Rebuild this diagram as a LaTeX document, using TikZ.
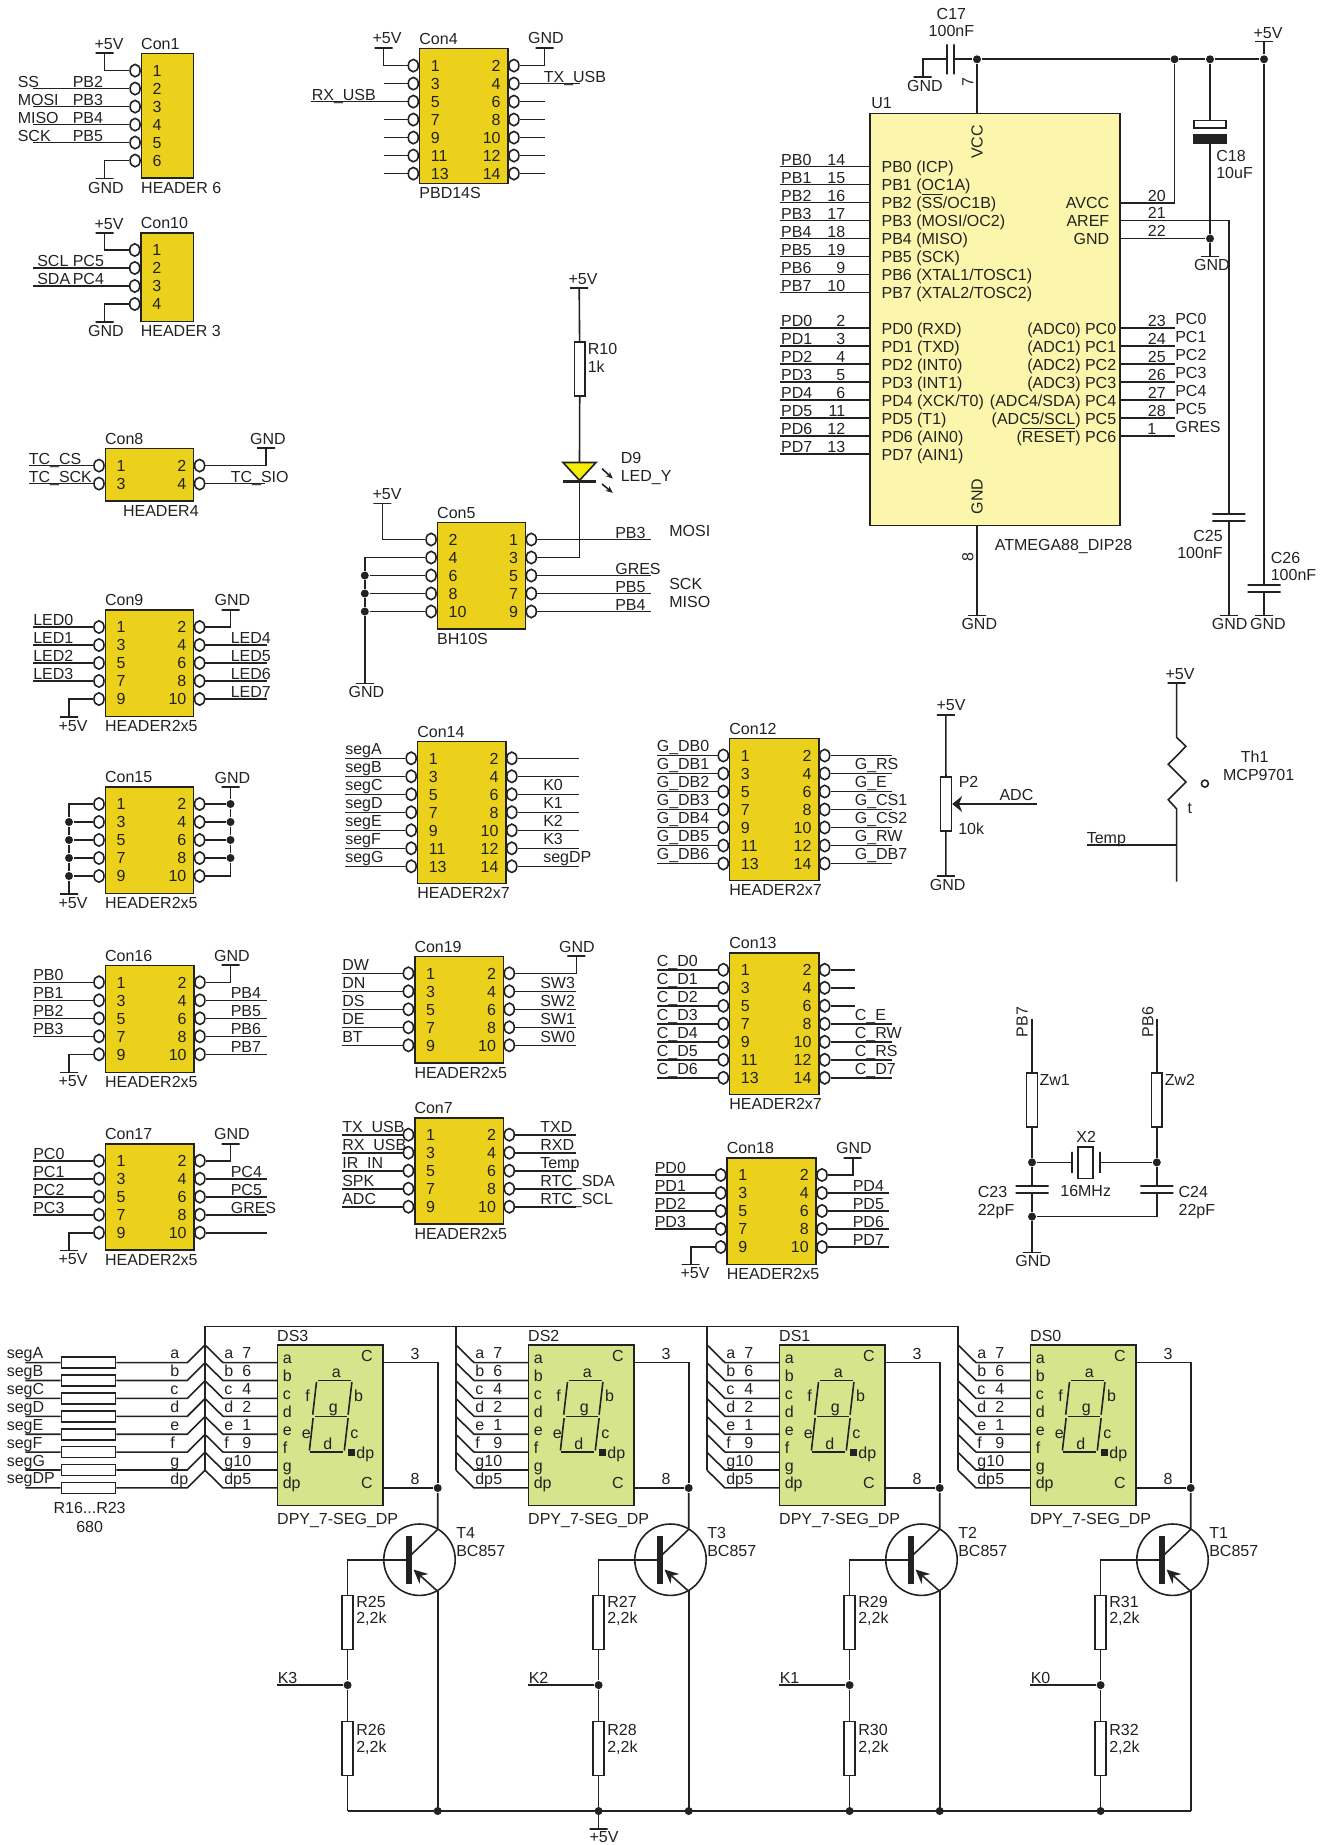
\documentclass[tikz,border=0pt]{standalone}
\usepackage{fontspec}
\setmainfont{Liberation Sans}
\usetikzlibrary{arrows.meta,shapes.geometric}
\definecolor{conyellow}{HTML}{ECD11C}
\definecolor{mcuyellow}{HTML}{FBF6AB}
\definecolor{dispgreen}{HTML}{D6E48C}
\definecolor{ledyellow}{HTML}{F6EE00}
\definecolor{wirecol}{HTML}{222222}
\def\sigraise{.7pt}
\tikzset{
  txt/.style={font=\fontsize{8}{10}\selectfont,inner sep=0pt,text height=5.8pt,text depth=0pt,anchor=west},
  txtc/.style={txt,anchor=center},
  sig/.style={txt,anchor=base west,yshift=\sigraise},
  conbody/.style={draw,fill=conyellow,inner sep=0pt},
  mcubody/.style={draw,fill=mcuyellow,inner sep=0pt},
  dispbody/.style={draw,fill=dispgreen,inner sep=0pt},
  pinhole/.style={ellipse,draw,fill=white,inner sep=0pt,minimum width=5pt,minimum height=6.2pt},
  railbar/.style={draw,inner sep=0pt,minimum width=9pt,minimum height=0pt},
  plateh/.style={draw,inner sep=0pt,minimum width=16.5pt,minimum height=0pt,line width=1pt},
  platev/.style={draw,inner sep=0pt,minimum height=15pt,minimum width=0pt,line width=1pt},
  resv/.style={draw,fill=white,inner sep=0pt,minimum width=5.4pt,minimum height=27pt},
  resh/.style={draw,fill=white,inner sep=0pt,minimum width=27pt,minimum height=5.5pt},
  junction/.style={circle,fill,inner sep=0pt,minimum size=4pt}
}
\newcommand{\ovl}[1]{$\overline{\mbox{#1}}$}
\newcommand{\conbox}[7]{%
  \def\conname{#1}\def\conxl{#2}\def\conxr{#3}\def\cony{#4}%
  \node[conbody,minimum width=(#3-#2)*.5pt,minimum height=(#5-#4)*.5pt] (#1) at ({(#2+#3)/2},{(#4+#5)/2}) {};
  \node[txt] (#1title) at (#2-1,#4-10) {#6};
  \node[txt] (#1type) at (#2-1,#5+9.5) {#7};}
\newcommand{\pinsL}[1]{%
  \foreach \n [count=\i from 0] in {#1} {
    \node[pinhole] (\conname p\n) at (\conxl-6.3,\cony+17+18*\i) {};
    \node[txt] (\conname n\n) at (\conxl+10.5,\cony+17+18*\i) {\n};
  }}
\newcommand{\pinsR}[1]{%
  \foreach \n [count=\i from 0] in {#1} {
    \node[pinhole] (\conname p\n) at (\conxr+6,\cony+17+18*\i) {};
    \node[txt,anchor=east] (\conname n\n) at (\conxr-6.5,\cony+17+18*\i) {\n};
  }}
\newcommand{\stub}[2]{%
  \coordinate (#1e) at (#2,0 |- #1);
  \draw (#1) -- (#1e);}
\newcommand{\wire}[4]{%
  \stub{#1}{#2}
  \node[sig] (#1t) at (#3,0 |- #1) {#4};}
\newcommand{\supply}[6]{%
  \node[railbar] (#1) at (#2,#3) {};
  \node[txtc] (#1t) at (#5,#6) {#4};}
\newcommand{\uleft}[4]{%
  \coordinate (u1#1) at (870.2,#2);
  \coordinate (u1#1e) at (780.4,#2);
  \draw (u1#1) -- (u1#1e);
  \node[sig] (u1#1t) at (u1#1e) {#1};
  \node[sig,anchor=base east] (u1#1n) at (846,#2) {#3};
  \node[txt] (u1#1f) at (880.8,#2) {#4};}
\newcommand{\dispunit}[6]{%
  \begin{scope}[xshift=#1*.5pt,name prefix=#2-]
    \node[dispbody,minimum width=52.8pt,minimum height=80.1pt] (box) at (330.2,1425.3) {};
    \node[txt] (name) at (276.4,1335.5) {#2};
    \node[txt] (type) at (276.4,1518.3) {DPY\_7-SEG\_DP};
    \coordinate (busT) at (205,1326.4);
    \foreach \s/\n [count=\i from 0] in {a/7,b/6,c/4,d/2,e/1,f/9,g/10,dp/5} {
      \coordinate (pin\s) at (277.4,1362.6+17.9*\i);
      \coordinate (in\s) at (223,1362.6+17.9*\i);
      \coordinate (tap\s) at (205,1344.9+17.9*\i);
      \draw (tap\s) -- (in\s) -- (pin\s);
      \node[txt,anchor=base west] (lt\s) at (223.5,1358.8+17.9*\i) {\s};
      \node[txt,anchor=base east] (no\s) at (252,1358.8+17.9*\i) {\n};
      \node[txt,anchor=base west] (li\s) at (282,1363.6+17.9*\i) {\s};
    }
    \draw (busT) -- (tapdp);
    \foreach \ax/\ay/\bx/\by in {40.4/35.1/73.2/35.1,39.1/36.8/35.3/69.5,74.5/36.8/70.7/69.5,37.4/71.2/69.8/71.2,35.7/72.9/32/105.3,70.7/72.9/66.9/105.3,32.4/107/65.6/107}
      \draw (277.4+\ax,1345.2+\ay) -- (277.4+\bx,1345.2+\by);
    \foreach \s/\ax/\ay in {a/58.9/26.4,f/30.3/50.4,b/81.2/50.4,g/55.9/61.2,e/29/87.6,c/77/87.6,d/50.5/98,dp/87.9/107}
      \node[txtc] (seg\s) at (277.4+\ax,1345.2+\ay) {\s};
    \node[fill,inner sep=0pt,minimum size=3.5pt] (dpdot) at (351.4,1452.2) {};
    \node[txtc] (ctop) at (367,1355.3) {C};
    \node[txtc] (cbot) at (367,1482.5) {C};
    \node[txtc] (pin3) at (415,1353.5) {3};
    \node[txtc] (pin8) at (415,1478.7) {8};
    \coordinate (cout) at (383,1362.6);
    \coordinate (cout2) at (383,1488);
    \node[junction] (cj) at (437.7,1488) {};
    \draw (cout) -| (cj);
    \draw (cout2) -- (cj);
    % transistor
    \node[circle,draw,inner sep=0pt,minimum size=35.7pt] (tr) at (419.5,1559.7) {};
    \node[fill,inner sep=0pt,minimum width=2.6pt,minimum height=23.8pt] (bb) at (409,1560.2) {};
    \node[txt] (tname) at (455.5,1532.2) {#3};
    \node[txt] (ttype) at (455.5,1551) {BC857};
    \coordinate (ct) at (437.7,1529.4);
    \coordinate (cb) at (410.4,1555.5);
    \coordinate (ee) at (437.7,1591.3);
    \coordinate (eb) at (413.5,1569.5);
    \coordinate (ebot) at (437.7,1811);
    \coordinate (rb) at (347.6,1811);
    \draw (cj) -- (ct) -- (cb);
    \draw[-{Stealth[length=7pt,width=6.5pt]}] (ee) -- (eb);
    \draw (ee) -- (ebot);
    % base divider
    \node[resv] (ru) at (347.6,1622.5) {};
    \node[resv] (rl) at (347.6,1748.5) {};
    \node[junction] (kj) at (347.6,1685.1) {};
    \coordinate (kin) at (277,1685.1);
    \draw (ru) |- (bb);
    \draw (ru) -- (kj) -- (rl) -- (rb);
    \draw (kin) -- (kj);
    \node[sig] (kt) at (kin) {#6};
    \node[txt] (run) at (355.5,1601.4) {#4};
    \node[txt] (ruv) at (355.5,1617.3) {2,2k};
    \node[txt] (rln) at (355.5,1729.6) {#5};
    \node[txt] (rlv) at (355.5,1747) {2,2k};
  \end{scope}}

\begin{document}
\begin{tikzpicture}[x=.5pt,y=-.5pt,line width=.8pt,color=wirecol,>=stealth]
  \useasboundingbox (0,0) rectangle (1332,1845);

  % Con1
  \conbox{con1}{141.4}{193.6}{53.6}{178}{Con1}{HEADER 6}
  \pinsL{1,...,6}
  \supply{v1}{104.5}{53.2}{+5V}{109}{43.6}
  \supply{g1}{104.5}{178.6}{GND}{106}{187.5}
  \draw (con1p1) -| (v1);
  \draw (con1p6) -| (g1);
  \foreach \p/\a/\b in {2/SS/PB2,3/MOSI/PB3,4/MISO/PB4,5/SCK/PB5} {
    \wire{con1p\p}{33}{17}{\a}
    \node[sig] (con1p\p b) at (72,0 |- con1p\p) {\b};
  }
  % Con10
  \conbox{con10}{141}{193.6}{233}{321.4}{Con10}{HEADER 3}
  \pinsL{1,...,4}
  \supply{v10}{104.5}{233}{+5V}{109}{224}
  \supply{g10}{104.5}{322}{GND}{106}{330.7}
  \draw (con10p1) -| (v10);
  \draw (con10p4) -| (g10);
  \foreach \p/\a/\b in {2/SCL/PC5,3/SDA/PC4} {
    \wire{con10p\p}{33}{36.5}{\a}
    \node[sig] (con10p\p b) at (72,0 |- con10p\p) {\b};
  }
  % Con4
  \conbox{con4}{419.6}{507.9}{48.6}{183.6}{Con4}{PBD14S}
  \pinsL{1,3,...,13}
  \pinsR{2,4,...,14}
  \supply{v4}{383.5}{47.9}{+5V}{387}{38.2}
  \supply{g4}{544.6}{47.9}{GND}{546}{38.2}
  \draw (con4p1) -| (v4);
  \draw (con4p2) -| (g4);
  \wire{con4p5}{311.3}{311}{RX\_USB}
  \wire{con4p4}{580}{543}{TX\_USB}
  \foreach \p in {3,7,9,11,13} \stub{con4p\p}{383.5};
  \foreach \p in {6,8,...,14} \stub{con4p\p}{544.6};
  % Con8
  \conbox{con8}{105.3}{193.6}{448.6}{501.2}{Con8}{\hspace*{9pt}HEADER4}
  \pinsL{1,3}
  \pinsR{2,4}
  \supply{g8}{266}{448.2}{GND}{268}{438.6}
  \draw (con8p2) -| (g8);
  \wire{con8p1}{28.5}{28}{TC\_CS}
  \wire{con8p3}{28.5}{28}{TC\_SCK}
  \wire{con8p4}{265}{230}{TC\_SIO}
  % Con5 and the LED
  \conbox{con5}{437.4}{525.3}{522.5}{628.7}{Con5}{BH10S}
  \pinsL{2,4,...,10}
  \pinsR{1,3,...,9}
  \supply{v5}{382.3}{503.6}{+5V}{387}{494}
  \supply{g5}{364.8}{683.3}{GND}{366.5}{691.7}
  \draw (con5p2) -| (v5);
  \node[junction] (j56) at (364.8,0 |- con5p6) {};
  \node[junction] (j58) at (364.8,0 |- con5p8) {};
  \node[junction] (j510) at (364.8,0 |- con5p10) {};
  \draw (con5p4) -| (j56);
  \draw (con5p6) -- (j56) -- (j58) -- (j510) -- (g5);
  \draw (con5p8) -- (j58);
  \draw (con5p10) -- (j510);
  \wire{con5p1}{651}{614.5}{PB3}
  \wire{con5p5}{651}{614.5}{GRES}
  \wire{con5p7}{651}{614.5}{PB5}
  \wire{con5p9}{651}{614.5}{PB4}
  \node[txt] (mositxt) at (668.5,530.7) {MOSI};
  \node[txt] (scktxt) at (668.5,583.6) {SCK};
  \node[txt] (misotxt) at (668.5,601.3) {MISO};
  \supply{v10r}{579.2}{287.9}{+5V}{583}{279}
  \node[resv] (r10) at (579.8,369.2) {};
  \node[txt] (r10n) at (587,348.6) {R10};
  \node[txt] (r10v) at (587,366.8) {1k};
  \coordinate (d9a) at (579.5,462.5);
  \coordinate (d9k) at (579.5,481.4);
  \coordinate (ledk) at (579.5,0 |- con5p3);
  \draw (v10r) -- (r10) -- (d9a);
  \draw[fill=ledyellow] (563,462.5) -- (596,462.5) -- (579.5,480.4) -- cycle;
  \draw[line width=1.6pt] (563,481.4) -- (596,481.4);
  \draw (d9k) -- (ledk) -- (con5p3);
  \draw[-{Stealth[length=3.5pt,width=3pt]}] (602,468.6) -- (612.8,478.6);
  \draw[-{Stealth[length=3.5pt,width=3pt]}] (602,484) -- (612.8,492.9);
  \node[txt] (d9n) at (620,458) {D9};
  \node[txt] (d9v) at (620,476) {LED\_Y};
  % Con9
  \conbox{con9}{105.3}{193.6}{610}{716.3}{Con9}{HEADER2x5}
  \pinsL{1,3,...,9}
  \pinsR{2,4,...,10}
  \supply{g9}{230.5}{610}{GND}{232.5}{600}
  \supply{v9}{69}{717}{+5V}{73}{725.7}
  \draw (con9p2) -| (g9);
  \draw (con9p9) -| (v9);
  \foreach \p/\lab in {1/LED0,3/LED1,5/LED2,7/LED3} \wire{con9p\p}{33}{32.5}{\lab};
  \foreach \p/\lab in {4/LED4,6/LED5,8/LED6,10/LED7} \wire{con9p\p}{267}{230}{\lab};
  % Con15
  \conbox{con15}{105.3}{193.6}{787}{893.3}{Con15}{HEADER2x5}
  \pinsL{1,3,...,9}
  \pinsR{2,4,...,10}
  \supply{g15}{230.5}{787}{GND}{232.5}{777.3}
  \supply{v15}{69}{894}{+5V}{73}{902.7}
  \foreach \p in {3,5,...,9} {
    \node[junction] (j15p\p) at (69,0 |- con15p\p) {};
    \draw (con15p\p) -- (j15p\p);
  }
  \foreach \p in {2,4,...,8} {
    \node[junction] (j15p\p) at (230.5,0 |- con15p\p) {};
    \draw (con15p\p) -- (j15p\p);
  }
  \draw (con15p1) -| (j15p3);
  \draw (j15p3) -- (j15p5) -- (j15p7) -- (j15p9) -- (v15);
  \draw (g15) -- (j15p2) -- (j15p4) -- (j15p6) -- (j15p8);
  \draw (con15p10) -| (j15p8);
  % Con16
  \conbox{con16}{105.3}{193.9}{965.3}{1072.3}{Con16}{HEADER2x5}
  \pinsL{1,3,...,9}
  \pinsR{2,4,...,10}
  \supply{g16}{230.6}{965}{GND}{232}{955.3}
  \supply{v16}{69}{1072.5}{+5V}{73}{1081}
  \draw (con16p2) -| (g16);
  \draw (con16p9) -| (v16);
  \foreach \p/\lab in {1/PB0,3/PB1,5/PB2,7/PB3} \wire{con16p\p}{33}{32.5}{\lab};
  \foreach \p/\lab in {4/PB4,6/PB5,8/PB6,10/PB7} \wire{con16p\p}{266.5}{230}{\lab};
  % Con17
  \conbox{con17}{105.3}{193.9}{1143.7}{1250}{Con17}{HEADER2x5}
  \pinsL{1,3,...,9}
  \pinsR{2,4,...,10}
  \supply{g17}{230.6}{1143.7}{GND}{232}{1133.7}
  \supply{v17}{69}{1250.5}{+5V}{73}{1259}
  \draw (con17p2) -| (g17);
  \draw (con17p9) -| (v17);
  \foreach \p/\lab in {1/PC0,3/PC1,5/PC2,7/PC3} \wire{con17p\p}{33}{32.5}{\lab};
  \foreach \p/\lab in {4/PC4,6/PC5,8/GRES} \wire{con17p\p}{266.5}{230}{\lab};
  \stub{con17p10}{266.5}
  % Con19
  \def\sigraise{1.2pt}
  \conbox{con19}{414.7}{503.3}{956.3}{1062.7}{Con19}{HEADER2x5}
  \pinsL{1,3,...,9}
  \pinsR{2,4,...,10}
  \supply{g19}{576.3}{956}{GND}{577}{946.7}
  \draw (con19p2) -| (g19);
  \foreach \p/\lab in {1/DW,3/DN,5/DS,7/DE,9/BT} \wire{con19p\p}{342}{341.5}{\lab};
  \foreach \p/\lab in {4/SW3,6/SW2,8/SW1,10/SW0} \wire{con19p\p}{576.3}{539.5}{\lab};
  % Con7
  \conbox{con7}{414.7}{503.3}{1117.7}{1224}{Con7}{HEADER2x5}
  \pinsL{1,3,...,9}
  \pinsR{2,4,...,10}
  \foreach \p/\lab in {1/TX\_USB,3/RX\_USB,5/IR\_IN,7/SPK,9/ADC} \wire{con7p\p}{342}{341.5}{\lab};
  \foreach \p/\lab in {2/TXD,4/RXD,6/Temp,8/RTC\_SDA,10/RTC\_SCL} \wire{con7p\p}{576.3}{539.5}{\lab};
  % Con14
  \def\sigraise{1.9pt}
  \conbox{con14}{417.5}{505.8}{741.3}{883.3}{Con14}{HEADER2x7}
  \pinsL{1,3,...,13}
  \pinsR{2,4,...,14}
  \foreach \p/\lab in {1/segA,3/segB,5/segC,7/segD,9/segE,11/segF,13/segG} \wire{con14p\p}{345}{344.5}{\lab};
  \foreach \p/\lab in {6/K0,8/K1,10/K2,12/K3,14/segDP} \wire{con14p\p}{578.8}{542.5}{\lab};
  \stub{con14p2}{578.8}
  \stub{con14p4}{578.8}
  % Con12
  \conbox{con12}{729.6}{818.7}{738.5}{880.5}{Con12}{HEADER2x7}
  \pinsL{1,3,...,13}
  \pinsR{2,4,...,14}
  \foreach \p/\lab in {1/G\_DB0,3/G\_DB1,5/G\_DB2,7/G\_DB3,9/G\_DB4,11/G\_DB5,13/G\_DB6} \wire{con12p\p}{656.8}{656}{\lab};
  \foreach \p/\lab in {4/G\_RS,6/G\_E,8/G\_CS1,10/G\_CS2,12/G\_RW,14/G\_DB7} \wire{con12p\p}{891.5}{854}{\lab};
  \stub{con12p2}{891.5}
  % Con13
  \conbox{con13}{729.6}{818.7}{952.8}{1094.4}{Con13}{HEADER2x7}
  \pinsL{1,3,...,13}
  \pinsR{2,4,...,14}
  \foreach \p/\lab in {1/C\_D0,3/C\_D1,5/C\_D2,7/C\_D3,9/C\_D4,11/C\_D5,13/C\_D6} \wire{con13p\p}{656.8}{656}{\lab};
  \foreach \p/\lab in {8/C\_E,10/C\_RW,12/C\_RS,14/C\_D7} \wire{con13p\p}{891.5}{854}{\lab};
  \foreach \p in {2,4,6} \stub{con13p\p}{855};
  \def\sigraise{.7pt}
  % Con18
  \conbox{con18}{727}{816}{1158}{1264.4}{Con18}{HEADER2x5}
  \pinsL{1,3,...,9}
  \pinsR{2,4,...,10}
  \supply{g18}{852.7}{1158}{GND}{854}{1147.8}
  \supply{v18}{690.7}{1264.4}{+5V}{695}{1273}
  \draw (con18p2) -| (g18);
  \draw (con18p9) -| (v18);
  \foreach \p/\lab in {1/PD0,3/PD1,5/PD2,7/PD3} \wire{con18p\p}{654.6}{654}{\lab};
  \foreach \p/\lab in {4/PD4,6/PD5,8/PD6,10/PD7} \wire{con18p\p}{888.5}{852}{\lab};

  % U1
  \node[mcubody,minimum width=124.8pt,minimum height=205.85pt] (u1) at (995,319.45) {};
  \node[txt] (u1name) at (870.5,102.7) {U1};
  \node[txt] (u1type) at (994,544.6) {ATMEGA88\_DIP28};
  \node[txtc,rotate=90] (u1vcct) at (976.7,141.8) {VCC};
  \node[txtc,rotate=90] (u1gndt) at (976.7,496.6) {GND};
  \foreach \lab/\n/\fn [count=\i from 0] in {PB0/14/{PB0 (ICP)},PB1/15/{PB1 (OC1A)},PB2/16/{PB2 (\ovl{SS}/OC1B)},PB3/17/{PB3 (MOSI/OC2)},PB4/18/{PB4 (MISO)},PB5/19/{PB5 (SCK)},PB6/9/{PB6 (XTAL1/TOSC1)},PB7/10/{PB7 (XTAL2/TOSC2)}}
    \uleft{\lab}{166.7+18*\i}{\n}{\fn};
  \foreach \lab/\n/\fn [count=\i from 0] in {PD0/2/{PD0 (RXD)},PD1/3/{PD1 (TXD)},PD2/4/{PD2 (INT0)},PD3/5/{PD3 (INT1)},PD4/6/{PD4 (XCK/T0)},PD5/11/{PD5 (T1)},PD6/12/{PD6 (AIN0)},PD7/13/{PD7 (AIN1)}}
    \uleft{\lab}{328.3+18*\i}{\n}{\fn};
  \foreach \lab/\n/\fn/\nx [count=\i from 0] in {PC0/23/{(ADC0) PC0}/1156.8,PC1/24/{(ADC1) PC1}/1156.8,PC2/25/{(ADC2) PC2}/1156.8,PC3/26/{(ADC3) PC3}/1156.8,PC4/27/{(ADC4/SDA) PC4}/1156.8,PC5/28/{(ADC5/SCL) PC5}/1156.8,GRES/1/{(\ovl{RESET}) PC6}/1151.9} {
    \coordinate (u1\lab) at (1119.8,328.3+18*\i);
    \coordinate (u1\lab e) at (1175.3,328.3+18*\i);
    \draw (u1\lab) -- (u1\lab e);
    \node[txt] (u1\lab t) at (1174.5,319+18*\i) {\lab};
    \node[txtc] (u1\lab n) at (\nx,321+18*\i) {\n};
    \node[txt,anchor=east] (u1\lab f) at (1117,328.3+18*\i) {\fn};
  }
  \foreach \lab/\n/\yy in {AVCC/20/202.9,AREF/21/220.5,GND/22/238.6} {
    \coordinate (u1\lab) at (1119.8,\yy);
    \node[txt,anchor=east] (u1\lab f) at (1110,\yy) {\lab};
    \node[txtc] (u1\lab n) at (1156.8,\yy-7.4) {\n};
  }
  \coordinate (u1vcc) at (977,113.6);
  \coordinate (u1gnd) at (977,525.3);
  \node[txtc,rotate=90] (pin7t) at (967.6,81.6) {7};
  \node[txtc,rotate=90] (pin8t) at (967.6,557.2) {8};
  \supply{g8u}{977}{615.3}{GND}{979.3}{624}
  \draw (u1gnd) -- (g8u);
  % supply rail
  \node[platev] (c17a) at (947.2,59.3) {};
  \node[platev] (c17b) at (954,59.3) {};
  \node[txtc] (c17n) at (951.4,13.5) {C17};
  \node[txtc] (c17v) at (951.4,30.3) {100nF};
  \supply{g17c}{922.7}{77}{GND}{925}{85.4}
  \draw (c17a) -| (g17c);
  \node[junction] (j1) at (977,59.3) {};
  \node[junction] (j2) at (1174.5,59.3) {};
  \node[junction] (j3) at (1210,59.3) {};
  \node[junction] (j4) at (1264,59.3) {};
  \draw (c17b) -- (j1) -- (j2) -- (j3) -- (j4);
  \draw (j1) -- (u1vcc);
  \draw (u1AVCC) -| (j2);
  \supply{v26}{1264}{41.7}{+5V}{1268}{32.4}
  \node[plateh] (c26a) at (1264,585.4) {};
  \node[plateh] (c26b) at (1264,592.2) {};
  \supply{g26}{1264}{615.3}{GND}{1268}{624}
  \draw (v26) -- (j4) -- (c26a);
  \draw (c26b) -- (g26);
  \node[txt] (c26n) at (1270,557.2) {C26};
  \node[txt] (c26v) at (1270,574.5) {100nF};
  % C18
  \node[draw,fill=white,inner sep=0pt,minimum width=15.9pt,minimum height=3.8pt] (c18a) at (1210,124.2) {};
  \node[draw,fill,inner sep=0pt,minimum width=15.9pt,minimum height=4.2pt] (c18b) at (1210,138.9) {};
  \node[junction] (j18) at (1210,238.6) {};
  \supply{g18c}{1210}{256.7}{GND}{1211.9}{265}
  \draw (j3) -- (c18a);
  \draw (c18b) -- (j18) -- (g18c);
  \draw (u1GND) -- (j18);
  \node[txt] (c18n) at (1215.5,155.3) {C18};
  \node[txt] (c18v) at (1215.5,173) {10uF};
  % C25
  \node[plateh] (c25a) at (1228.9,513.9) {};
  \node[plateh] (c25b) at (1228.9,520.6) {};
  \supply{g25}{1228.9}{615.3}{GND}{1229.6}{624}
  \draw (u1AREF) -| (c25a);
  \draw (c25b) -- (g25);
  \node[txt,anchor=east] (c25n) at (1223.5,535.8) {C25};
  \node[txt,anchor=east] (c25v) at (1223.5,552.6) {100nF};

  % P2
  \supply{vp2}{945.8}{714.8}{+5V}{951}{705}
  \supply{gp2}{945.8}{876}{GND}{947.6}{884.4}
  \node[resv] (p2) at (946,804) {};
  \coordinate (adcin) at (1037,804);
  \draw (vp2) -- (p2) -- (gp2);
  \draw[-{Stealth[length=5pt,width=8pt]}] (adcin) -- (p2.east);
  \node[txtc] (adct) at (1016.4,794.7) {ADC};
  \node[txt] (p2n) at (958,782) {P2};
  \node[txt] (p2v) at (957.5,828.3) {10k};
  % Th1
  \supply{vth}{1176.6}{683}{+5V}{1180}{674}
  \coordinate (thj) at (1176.6,844.9);
  \coordinate (thbot) at (1176.6,881.7);
  \coordinate (tempw) at (1086.6,844.9);
  \draw (vth) -- (1176.6,737.3) -- (1185.9,746.4) -- (1168.3,764.2) -- (1185.9,782) -- (1168.3,799.8) -- (1176.6,808.9) -- (thj) -- (thbot);
  \draw (tempw) -- (thj);
  \node[sig] (tempt) at (1086,844.9) {Temp};
  \node[circle,draw,inner sep=0pt,minimum size=3.5pt] (thdot) at (1204.9,783.6) {};
  \node[txtc] (tht) at (1189.9,807.3) {t};
  \node[txtc] (thn) at (1254.7,756.3) {Th1};
  \node[txtc] (thv) at (1258.7,774.5) {MCP9701};
  % crystal
  \coordinate (pb7top) at (1032,1018.9);
  \coordinate (pb6top) at (1156.8,1018.9);
  \node[txtc,rotate=90] (pb7t) at (1021.7,1022) {PB7};
  \node[txtc,rotate=90] (pb6t) at (1147.5,1022) {PB6};
  \node[resv] (zw1) at (1032,1100) {};
  \node[resv] (zw2) at (1156.8,1100) {};
  \node[txt] (zw1n) at (1038.8,1079.4) {Zw1};
  \node[txt] (zw2n) at (1164,1079.4) {Zw2};
  \node[junction] (xj1) at (1032,1162.4) {};
  \node[junction] (xj2) at (1156.8,1162.4) {};
  \node[platev,minimum height=10.5pt] (x2a) at (1071.6,1162.4) {};
  \node[platev,minimum height=10.5pt] (x2b) at (1099.9,1162.4) {};
  \node[draw,inner sep=0pt,minimum width=7.5pt,minimum height=15.8pt] (x2) at (1085.7,1162.8) {};
  \node[txtc] (x2n) at (1086.2,1136.7) {X2};
  \node[txtc] (x2v) at (1085.7,1190.5) {16MHz};
  \node[plateh] (c23a) at (1032,1185.7) {};
  \node[plateh] (c23b) at (1032,1193.3) {};
  \node[plateh] (c24a) at (1156.8,1185.7) {};
  \node[plateh] (c24b) at (1156.8,1193.3) {};
  \node[junction] (xj3) at (1032,1216.6) {};
  \supply{gx}{1032}{1252.6}{GND}{1033.2}{1260.5}
  \draw (pb7top) -- (zw1) -- (xj1) -- (c23a);
  \draw (pb6top) -- (zw2) -- (xj2) -- (c24a);
  \draw (c23b) -- (xj3) -- (gx);
  \draw (c24b) |- (xj3);
  \draw (xj1) -- (x2a);
  \draw (x2b) -- (xj2);
  \node[txt] (c23n) at (977,1192) {C23};
  \node[txt] (c23v) at (977,1209.8) {22pF};
  \node[txt] (c24n) at (1177.8,1192) {C24};
  \node[txt] (c24v) at (1177.8,1209.8) {22pF};

  % displays
  \dispunit{0}{DS3}{T4}{R25}{R26}{K3}
  \dispunit{251}{DS2}{T3}{R27}{R28}{K2}
  \dispunit{502}{DS1}{T2}{R29}{R30}{K1}
  \dispunit{753}{DS0}{T1}{R31}{R32}{K0}
  \draw (DS3-busT) -- (DS0-busT);
  \draw (DS3-rb) -- (DS0-ebot);
  \foreach \d in {DS3-ebot,DS2-rb,DS2-ebot,DS1-rb,DS1-ebot,DS0-rb}
    \node[junction] (\d j) at (\d) {};
  \supply{v5b}{598.6}{1829}{+5V}{604}{1837}
  \draw (DS2-rb) -- (v5b);
  % series resistors
  \foreach \s/\t/\l [count=\i from 0] in {a/segA/a,b/segB/b,c/segC/c,d/segD/d,e/segE/e,f/segF/f,g/segG/g,dp/segDP/dp} {
    \coordinate (seg\s in) at (25.3,1362.6+17.9*\i);
    \node[resh] (rs\s) at (88.5,1362.6+17.9*\i) {};
    \coordinate (rs\s out) at (187.3,1362.6+17.9*\i);
    \draw (seg\s in) -- (rs\s) -- (rs\s out) -- (DS3-tap\s);
    \node[txt,anchor=base west] (seg\s t) at (6,1358.6+17.9*\i) {\t};
    \node[txt,anchor=base west] (rs\s t) at (169.6,1358.8+17.9*\i) {\l};
  }
  \node[txtc] (rsn) at (89.6,1507.5) {R16...R23};
  \node[txtc] (rsv) at (89.6,1526.6) {680};
\end{tikzpicture}
\end{document}
